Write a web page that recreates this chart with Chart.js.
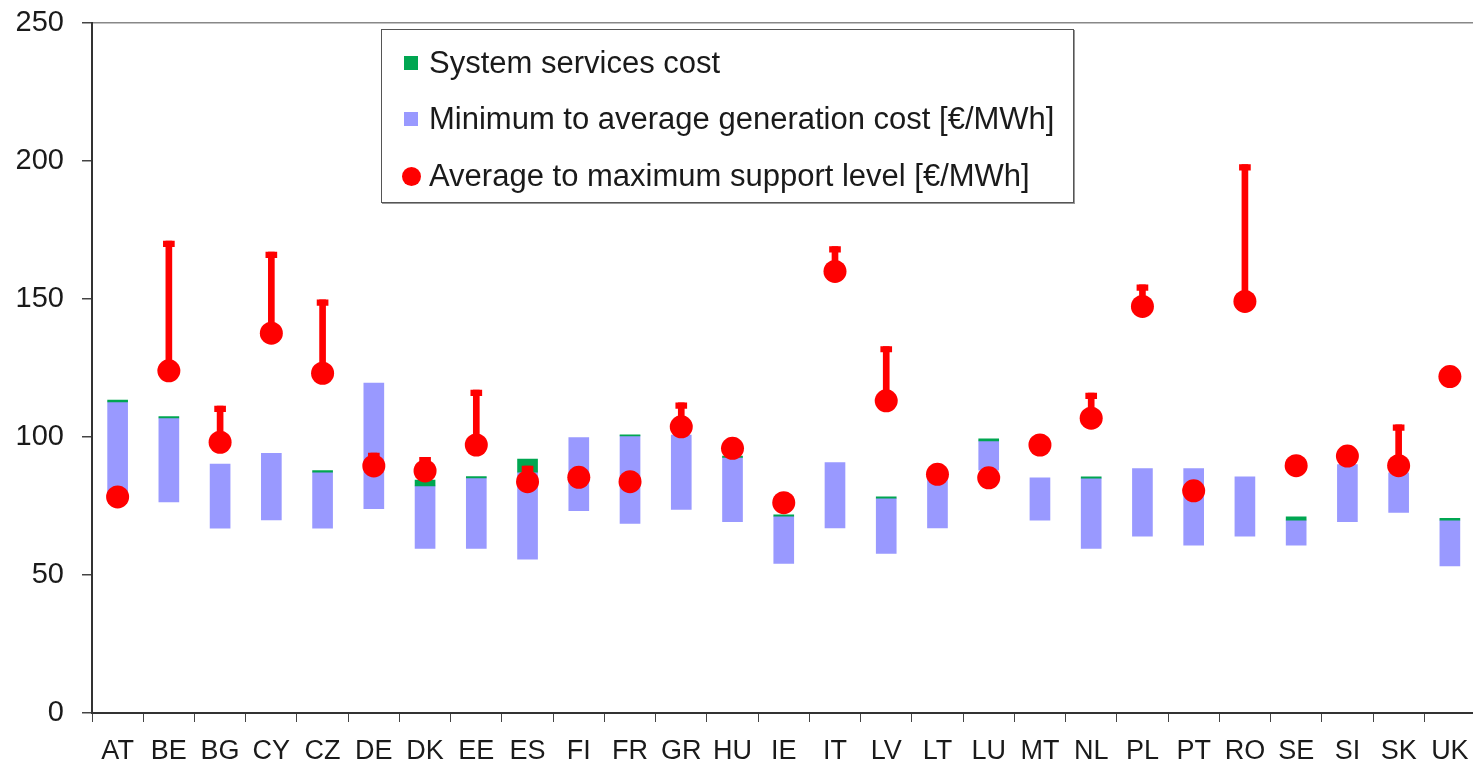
<!DOCTYPE html>
<html>
<head>
<meta charset="utf-8">
<script src="https://cdn.jsdelivr.net/npm/chart.js@4.4.1/dist/chart.umd.min.js"></script>
<style>
  html, body { margin: 0; padding: 0; background: #fff; overflow: hidden; }
  #wrap { position: relative; width: 1473px; height: 768px; overflow: hidden; }
  #legend {
    position: absolute; left: 381px; top: 29px; width: 691px; height: 172px;
    border: 1px solid #555; box-shadow: 1px 1px 0 #999; background: #fff;
    font-family: "Liberation Sans", Arial, sans-serif; font-size: 31px; color: #1a1a1a;
  }
  .row { position: absolute; left: 0; height: 34px; line-height: 34px; white-space: nowrap; }
  .mark { position: absolute; }
  .txt { position: absolute; left: 47px; top: 0; }
</style>
</head>
<body>
<div id="wrap">
  <canvas id="chart-1" width="1487" height="768"></canvas>
  <div id="legend"></div>
</div>
<script>
// landen
const countries = ['AT', 'BE', 'BG', 'CY', 'CZ', 'DE', 'DK', 'EE', 'ES', 'FI', 'FR', 'GR', 'HU', 'IE',
  'IT', 'LV', 'LT', 'LU', 'MT', 'NL', 'PL', 'PT', 'RO', 'SE', 'SI', 'SK', 'UK'];

// minimum / average generation cost [EUR/MWh]
const genMin = [80, 76.5, 67, 70, 67, 74, 59.6, 59.6, 55.7, 73.3, 68.7, 73.8, 69.3, 54.2,
  67.1, 57.8, 67.1, 88, 69.9, 59.6, 64.1, 60.8, 64.1, 60.8, 69.3, 72.7, 53.3];
const genAvg = [112.7, 106.9, 90.2, 94.1, 87.3, 119.5, 82.3, 85.2, 87.3, 99.8, 100.4, 100.7, 92.6, 71.3,
  90.7, 77.8, 85, 98.6, 85.2, 85.1, 88.6, 88.6, 85.6, 69.9, 90, 87, 69.9];

// system services cost, on top of the average
const sysCost = [0.7, 0.5, 0, 0, 0.5, 0, 2.1, 0.5, 4.7, 0, 0.4, 0, 0.5, 0.5,
  0, 0.5, 0, 0.7, 0, 0.5, 0, 0, 0, 1.2, 0, 0, 0.6];

// average / maximum support level [EUR/MWh]
const supportAvg = [78.3, 124, 98.1, 137.6, 123.1, 89.5, 87.7, 97.1, 83.8, 85.4, 83.8, 103.7, 95.9, 76.2,
  160, 113.1, 86.5, 85.2, 97.1, 106.8, 147.3, 80.5, 149.1, 89.6, 93.1, 89.6, 121.9];
const supportMax = [null, 171, 111.2, 167, 149.7, 94.2, 92.6, 117, 89.5, null, null, 112.4, null, null,
  169, 132.8, null, null, null, 115.9, 155.1, null, 198.7, null, null, 104.4, null];

const yTicks = [0, 50, 100, 150, 200, 250];

const GREEN = '#00a651';
const BLUE = '#9999ff';
const RED = '#ff0000';

const generationRange = genMin.map((v, i) => [v, genAvg[i]]);
const systemRange = genAvg.map((v, i) => sysCost[i] > 0 ? [v, v + sysCost[i]] : null);
const supportRange = supportAvg.map((v, i) => supportMax[i] ? [v, supportMax[i]] : null);
const capRange = supportMax.map(v => v ? [v - 2, v] : null);

const ctx1 = document.getElementById('chart-1').getContext('2d');
const chart1 = new Chart(ctx1, {
  type: 'bar',
  data: {
    labels: countries,
    datasets: [
      {
        label: 'Minimum to average generation cost [€/MWh]',
        data: generationRange,
        backgroundColor: BLUE,
        barThickness: 20,
        grouped: false,
        order: 5,
      },
      {
        label: 'System services cost',
        data: systemRange,
        backgroundColor: GREEN,
        barThickness: 20,
        grouped: false,
        order: 4,
      },
      {
        label: 'support range',
        data: supportRange,
        backgroundColor: RED,
        barThickness: 6,
        grouped: false,
        order: 3,
      },
      {
        label: 'support max',
        data: capRange,
        backgroundColor: RED,
        barThickness: 11,
        grouped: false,
        order: 2,
      },
      {
        type: 'line',
        label: 'Average to maximum support level [€/MWh]',
        data: supportAvg,
        showLine: false,
        pointRadius: 11.5,
        pointHoverRadius: 11.5,
        pointBackgroundColor: RED,
        pointBorderWidth: 0,
        order: 1,
      },
    ],
  },
  options: {
    responsive: false,
    animation: false,
    devicePixelRatio: 1,
    layout: { padding: { top: 23, right: 0, bottom: 0, left: 0 } },
    plugins: {
      legend: { display: false },
      tooltip: { enabled: false },
    },
    scales: {
      x: {
        offset: true,
        grid: { drawOnChartArea: false, offset: true, color: '#444', tickLength: 9 },
        border: { color: '#333', width: 2 },
        ticks: {
          color: '#1a1a1a',
          padding: 13,
          font: { family: '"Liberation Sans", Arial, sans-serif', size: 27 },
        },
        afterFit: (s) => { s.height = 55; },
      },
      y: {
        min: 0,
        max: 250,
        afterBuildTicks: (s) => { s.ticks = yTicks.map(v => ({ value: v })); },
        grid: {
          color: (c) => c.tick && c.tick.value === 250 ? '#888' : 'rgba(0,0,0,0)',
          tickColor: '#444',
          tickLength: 10,
          lineWidth: 1.5,
        },
        border: { color: '#333', width: 2 },
        ticks: {
          color: '#1a1a1a',
          padding: 18,
          font: { family: '"Liberation Sans", Arial, sans-serif', size: 29 },
        },
        afterFit: (s) => {
          s.width = 92;
          s.paddingTop = 0;
          s.paddingBottom = 0;
        },
      },
    },
  },
});

// legenda box (html, tekst blijft tekst)
const legendItems = [
  { text: 'System services cost', color: GREEN, shape: 'square', top: 16 },
  { text: 'Minimum to average generation cost [€/MWh]', color: BLUE, shape: 'square', top: 72 },
  { text: 'Average to maximum support level [€/MWh]', color: RED, shape: 'circle', top: 129 },
];
const legendBox = document.getElementById('legend');
legendItems.forEach((item) => {
  const row = document.createElement('div');
  row.className = 'row';
  row.style.top = item.top + 'px';
  const mark = document.createElement('div');
  mark.className = 'mark';
  if (item.shape === 'circle') {
    mark.style.cssText = 'left:20px;top:8px;width:19px;height:19px;border-radius:50%;background:' + item.color;
  } else {
    mark.style.cssText = 'left:22px;top:10px;width:14px;height:14px;background:' + item.color;
  }
  const txt = document.createElement('div');
  txt.className = 'txt';
  txt.textContent = item.text;
  row.appendChild(mark);
  row.appendChild(txt);
  legendBox.appendChild(row);
});
</script>
</body>
</html>
